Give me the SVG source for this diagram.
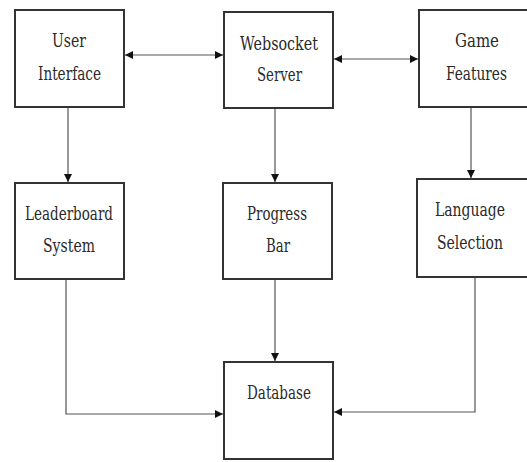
<svg xmlns="http://www.w3.org/2000/svg" width="527" height="462" viewBox="0 0 527 462">
<defs>
<marker id="ah" viewBox="0 0 10 10" refX="10" refY="5" markerWidth="8" markerHeight="8" markerUnits="userSpaceOnUse" orient="auto-start-reverse">
<path d="M0,0 L10,5 L0,10 Z" fill="#111"/>
</marker>
<style>
.box{fill:#fff;stroke:#333;stroke-width:2}
.lbl{font-family:'DejaVu Serif',serif;font-size:19px;fill:#2a2a2a;text-anchor:middle}
.c{fill:none;stroke:#555;stroke-width:1.2}
</style>
</defs>
<rect width="527" height="462" fill="#fff"/>
<g id="connectors">
<line class="c" x1="125" y1="55" x2="223" y2="55" marker-start="url(#ah)" marker-end="url(#ah)"/>
<line class="c" x1="334" y1="59" x2="418" y2="59" marker-start="url(#ah)" marker-end="url(#ah)"/>
<line class="c" x1="68" y1="108" x2="68" y2="182" marker-end="url(#ah)"/>
<line class="c" x1="275" y1="109" x2="275" y2="182" marker-end="url(#ah)"/>
<line class="c" x1="471" y1="108" x2="471" y2="178" marker-end="url(#ah)"/>
<line class="c" x1="275" y1="280" x2="275" y2="361" marker-end="url(#ah)"/>
<polyline class="c" points="66,280 66,414 223,414" marker-end="url(#ah)"/>
<polyline class="c" points="475,278 475,412 334,412" marker-end="url(#ah)"/>
</g>
<g id="user-interface">
<rect class="box" x="15" y="10" width="109" height="97"/>
<text class="lbl" x="69" y="47" textLength="34" lengthAdjust="spacingAndGlyphs">User</text>
<text class="lbl" x="69.5" y="80" textLength="63" lengthAdjust="spacingAndGlyphs">Interface</text>
</g>
<g id="websocket-server">
<rect class="box" x="224" y="12" width="109" height="96"/>
<text class="lbl" x="279" y="50" textLength="78" lengthAdjust="spacingAndGlyphs">Websocket</text>
<text class="lbl" x="279.5" y="81" textLength="45" lengthAdjust="spacingAndGlyphs">Server</text>
</g>
<g id="game-features">
<rect class="box" x="419" y="10" width="120" height="97"/>
<text class="lbl" x="477" y="47" textLength="44" lengthAdjust="spacingAndGlyphs">Game</text>
<text class="lbl" x="476.5" y="80" textLength="61" lengthAdjust="spacingAndGlyphs">Features</text>
</g>
<g id="leaderboard-system">
<rect class="box" x="15" y="183" width="109" height="96"/>
<text class="lbl" x="69" y="220" textLength="88" lengthAdjust="spacingAndGlyphs">Leaderboard</text>
<text class="lbl" x="69" y="252" textLength="52" lengthAdjust="spacingAndGlyphs">System</text>
</g>
<g id="progress-bar">
<rect class="box" x="223" y="183" width="109" height="96"/>
<text class="lbl" x="277" y="220" textLength="60" lengthAdjust="spacingAndGlyphs">Progress</text>
<text class="lbl" x="278" y="252" textLength="24" lengthAdjust="spacingAndGlyphs">Bar</text>
</g>
<g id="language-selection">
<rect class="box" x="417" y="179" width="120" height="98"/>
<text class="lbl" x="470" y="216" textLength="70" lengthAdjust="spacingAndGlyphs">Language</text>
<text class="lbl" x="470" y="249" textLength="66" lengthAdjust="spacingAndGlyphs">Selection</text>
</g>
<g id="database">
<rect class="box" x="224" y="362" width="109" height="97"/>
<text class="lbl" x="279" y="399" textLength="64" lengthAdjust="spacingAndGlyphs">Database</text>
</g>
</svg>
